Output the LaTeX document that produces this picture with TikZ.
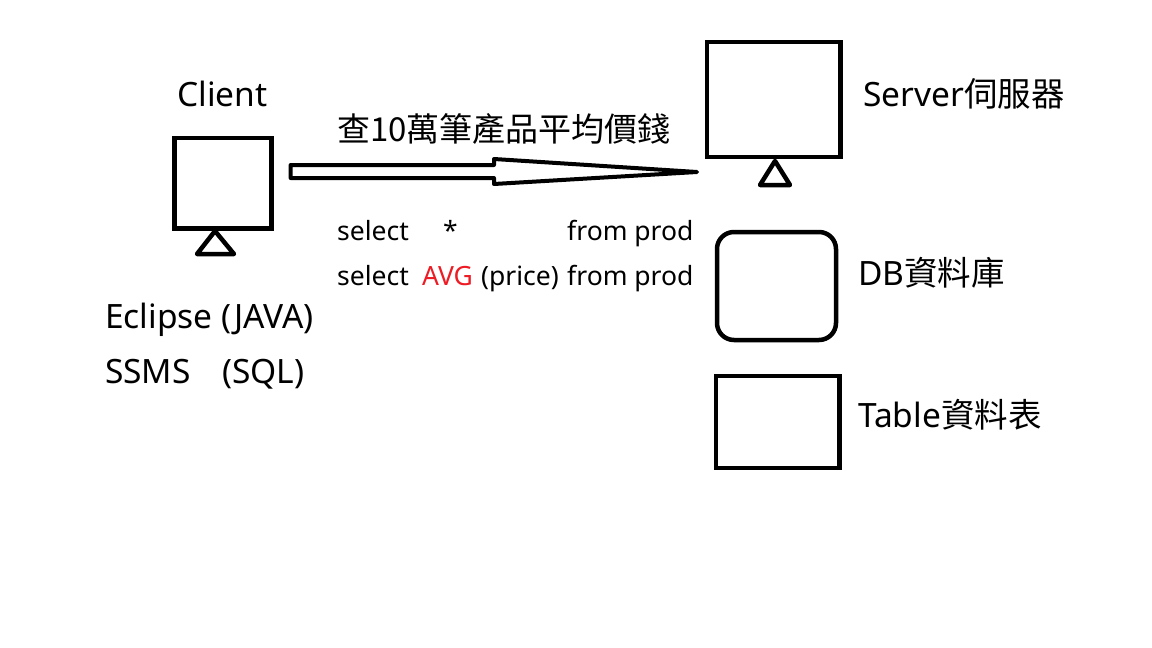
\documentclass[tikz,border=0pt]{standalone}
\usepackage{fontspec}
\setmainfont{Noto Sans}
\newfontfamily\cjk{Noto Sans CJK TC}
\definecolor{avgred}{RGB}{237,28,36}
\begin{document}
\begin{tikzpicture}[x=1pt,y=-1pt,
  box/.style={draw, line width=4.5pt, inner sep=0pt, outer sep=0pt},
  thick line/.style={line width=4.5pt, line join=round},
  lbl/.style={inner sep=0pt, anchor=base west, font=\fontsize{33.5}{40}\selectfont},
  sql/.style={inner sep=0pt, anchor=base west, font=\fontsize{26.5}{31}\selectfont}]
\useasboundingbox[fill=white] (0,0) rectangle (1152,648);

% boxes
\node[box, minimum width=97pt, minimum height=90.7pt] (client) at (223,183.3) {};
\node[box, minimum width=133.5pt, minimum height=115pt] (server) at (773.7,99.5) {};
\node[box, rounded corners=17pt, minimum width=119pt, minimum height=108pt] (db) at (776.5,286) {};
\node[box, minimum width=123.5pt, minimum height=92pt] (table) at (777.7,422) {};

% stands
\draw[thick line] (215,231) -- (234,254) -- (197,254) -- cycle;
\draw[thick line] (775,161) -- (790,185) -- (760,185) -- cycle;

% hollow arrow
\draw[line width=4pt, line join=round] (290.6,165) -- (494,165) -- (494,159) -- (697,172)
  -- (494,184) -- (494,178) -- (290.6,178) -- cycle;

% labels
\node[lbl] (lclient) at (177,106) {Client};
\node[lbl, font=\fontsize{33}{40}\selectfont] (lquery) at (337,141) {\cjk 查10萬筆產品平均價錢};
\node[sql] (s1a) at (337,240) {select};
\node[sql] (s1b) at (443,240) {*};
\node[sql] (s1c) at (567,240) {from prod};
\node[sql] (s2a) at (337,285) {select};
\node[sql, text=avgred] (s2b) at (422,285) {AVG};
\node[sql] (s2c) at (481,285) {(price)};
\node[sql] (s2d) at (567,285) {from prod};
\node[lbl] (lecl) at (105,328) {Eclipse (JAVA)};
\node[lbl] (lssms) at (105,383) {SSMS};
\node[lbl] (lsql) at (222,383) {(SQL)};
\node[lbl] (lserver) at (863,106) {Server{\cjk 伺服器}};
\node[lbl] (ldb) at (858,285) {DB{\cjk 資料庫}};
\node[lbl] (ltable) at (858,427) {Table{\cjk 資料表}};
\end{tikzpicture}
\end{document}
